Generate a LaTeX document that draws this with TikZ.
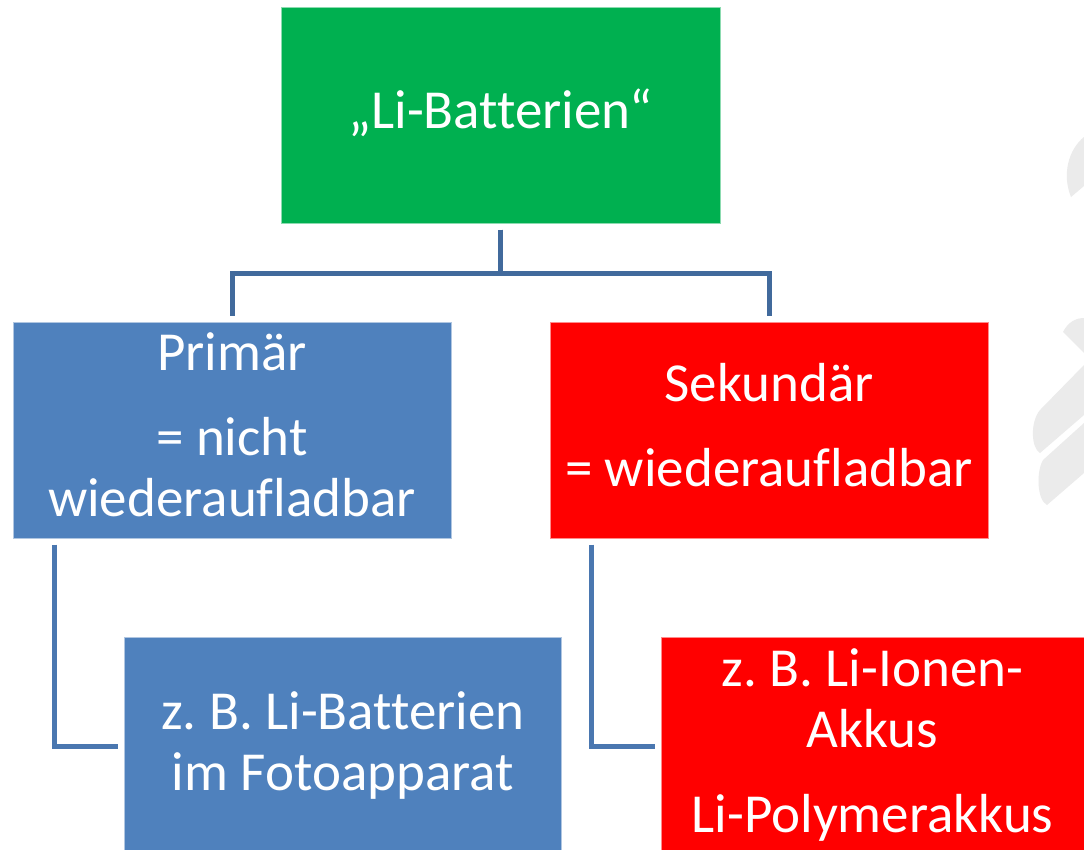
\documentclass[tikz,border=0pt]{standalone}
\usepackage{fontspec}
\newfontfamily\boxfont[Ligatures=NoCommon]{Carlito}
\usepackage{tikz}
\definecolor{boxgreen}{HTML}{00B050}
\definecolor{boxblue}{HTML}{4F81BD}
\definecolor{boxred}{HTML}{FF0000}
\definecolor{linkblue}{HTML}{416A9C}
\definecolor{linkbluelight}{HTML}{4A77B0}
\definecolor{logogray}{HTML}{EBEBEB}
\newcommand{\ls}{\rule[-13.75pt]{0pt}{55pt}}
\tikzset{
	defaultbox/.style={
			rectangle,
			minimum width=438pt,
			minimum height=216pt,
			inner sep=0pt,
			line width=1pt,
			align=center,
			text=white,
			font=\boxfont\fontsize{55}{61}\selectfont
		},
	greenbox/.style={
			defaultbox,
			fill=boxgreen,
			draw=boxgreen!45!white
		},
	bluebox/.style={
			defaultbox,
			fill=boxblue,
			draw=boxblue!45!white
		},
	redbox/.style={
			defaultbox,
			fill=boxred,
			draw=boxred!45!white
		},
	linkline/.style={
			line width=5pt,
			draw=linkblue,
			shorten <=6pt,
			shorten >=6pt
		},
	sublinkline/.style={
			linkline,
			draw=linkbluelight
		}
}

\begin{document}
\begin{tikzpicture}[x=1pt, y=-1pt]
\useasboundingbox (0,0) rectangle (1084,849);
\fill[white] (0,0) rectangle (1084,849);

% logo im Hintergrund
\fill[logogray] (1084,137) .. controls (1068,150) and (1062,175) .. (1071,197) -- (1084,186) -- cycle;
\fill[logogray] (1063,332) .. controls (1068,322) and (1076,318) .. (1084,318) -- (1084,353) -- cycle;
\fill[logogray] (1084,365) -- (1084,415) -- (1040,453) .. controls (1031,448) and (1030,422) .. (1040,410) -- cycle;
\fill[logogray] (1084,423) -- (1084,473) -- (1047,505) .. controls (1037,500) and (1036,472) .. (1043,460) -- cycle;

\node[greenbox, minimum width=439pt] (li) at (500.5,115) {\ls„Li-Batterien“\ls};
\node[bluebox] (prim) at (232,430) {\ls Primär\\[24pt]\ls= nicht\\wiederaufladbar\ls};
\node[redbox] (sek) at (769,430) {\ls Sekundär\\[24pt]= wiederaufladbar\ls};
\node[bluebox, minimum width=437pt, minimum height=218pt] (bsp1) at (343,746) {\ls z.~B. Li-Batterien\\im Fotoapparat\ls};
\node[redbox, minimum width=423pt, minimum height=218pt] (bsp2) at (872.5,746) {\ls z.~B. Li-Ionen-\\Akkus\\[24pt]Li-Polymerakkus\ls};

\draw[linkline] (li.south) -- ++(0,49.5) -| (prim.north);
\draw[linkline] (li.south) -- ++(0,49.5) -| (sek.north);

\draw[sublinkline] ([xshift=42pt]prim.south west) |- (bsp1.west);
\draw[sublinkline] ([xshift=42pt]sek.south west) |- (bsp2.west);
\end{tikzpicture}
\end{document}
